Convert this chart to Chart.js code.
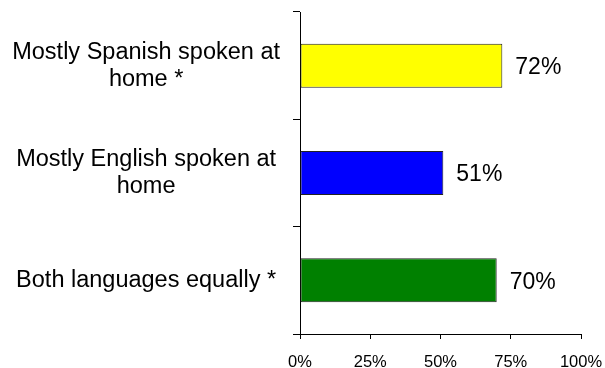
<!DOCTYPE html>
<html>
<head>
<meta charset="utf-8">
<script src="https://cdn.jsdelivr.net/npm/chart.js@4/dist/chart.umd.min.js"></script>
<style>
html,body{margin:0;padding:0;background:#fff;}
#wrap{width:605px;height:368px;position:relative;}
</style>
</head>
<body>
<div id="wrap"><canvas id="c"></canvas></div>
<script>
const categories = [
  ['Mostly Spanish spoken at', 'home *'],
  ['Mostly English spoken at', 'home'],
  ['Both languages equally *']
];
const values = [72, 51, 70];
const barColors = ['#FFFF00', '#0000FF', '#008000'];
const tickValues = [0, 25, 50, 75, 100];

const FONT = '"Liberation Sans", Arial, sans-serif';

const valueLabels = {
  id: 'valueLabels',
  afterDatasetsDraw(chart) {
    const ctx = chart.ctx;
    const meta = chart.getDatasetMeta(0);
    ctx.save();
    ctx.font = '23px ' + FONT;
    ctx.fillStyle = '#000';
    ctx.textAlign = 'left';
    ctx.textBaseline = 'middle';
    meta.data.forEach((bar, i) => {
      ctx.fillText(values[i] + '%', bar.x + 13, bar.y + 2);
    });
    ctx.restore();
  }
};

new Chart(document.getElementById('c'), {
  type: 'bar',
  data: {
    labels: categories,
    datasets: [{
      data: values,
      backgroundColor: barColors,
      borderColor: '#222',
      borderWidth: 1,
      borderSkipped: false,
      barPercentage: 0.41,
      categoryPercentage: 1.0
    }]
  },
  options: {
    indexAxis: 'y',
    responsive: true,
    maintainAspectRatio: false,
    animation: false,
    devicePixelRatio: 1,
    layout: { padding: { top: 12, right: 24, bottom: 0, left: 0 } },
    plugins: {
      legend: { display: false },
      tooltip: { enabled: false }
    },
    scales: {
      x: {
        min: 0,
        max: 100,
        afterBuildTicks(scale) {
          scale.ticks = tickValues.map(v => ({ value: v }));
        },
        afterFit(scale) {
          scale.height = 34;
          scale.paddingLeft = 0;
          scale.paddingRight = 0;
        },
        ticks: {
          callback: v => v + '%',
          color: '#000',
          font: { family: FONT, size: 16.5 },
          padding: 14,
          maxRotation: 0,
          autoSkip: false
        },
        grid: {
          drawOnChartArea: false,
          drawTicks: true,
          tickLength: 5,
          color: '#000'
        },
        border: { display: true, color: '#000', width: 1 }
      },
      y: {
        afterFit(scale) {
          scale.width = 300;
          scale.paddingTop = 0;
          scale.paddingBottom = 0;
        },
        ticks: {
          color: '#000',
          font: { family: FONT, size: 23.5, lineHeight: 1.15 },
          crossAlign: 'center',
          padding: 13,
          autoSkip: false
        },
        grid: {
          offset: true,
          drawOnChartArea: false,
          drawTicks: true,
          tickLength: 7,
          color: '#000'
        },
        border: { display: true, color: '#000', width: 1 }
      }
    }
  },
  plugins: [valueLabels]
});
</script>
</body>
</html>
